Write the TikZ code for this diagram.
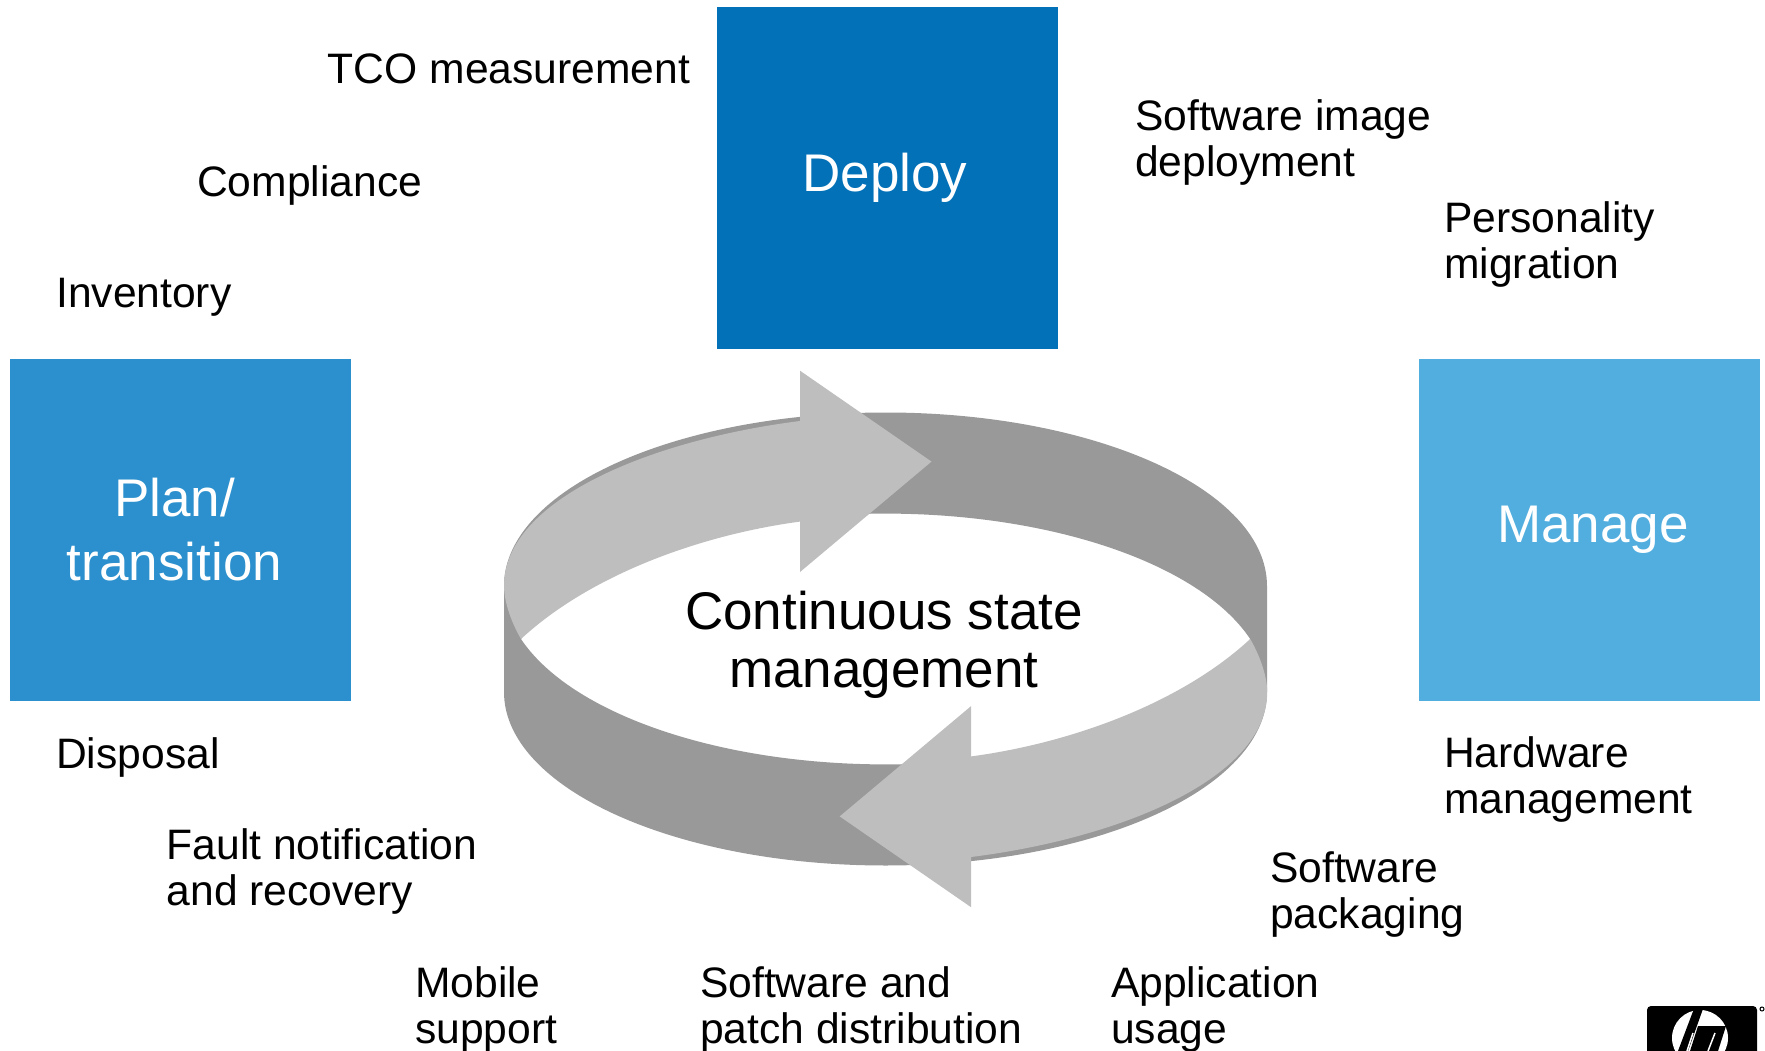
\documentclass[tikz,border=0pt]{standalone}
\usepackage{fontspec}
\setmainfont{Liberation Sans}
\usetikzlibrary{positioning}
\definecolor{deployblue}{RGB}{3,113,184}
\definecolor{planblue}{RGB}{43,144,205}
\definecolor{manageblue}{RGB}{82,174,223}
\definecolor{banddark}{RGB}{153,153,153}
\definecolor{bandlight}{RGB}{190,190,190}

\begin{document}
\begin{tikzpicture}[x=1pt, y=-1pt,
    stagebox/.style={rectangle, minimum width=341pt, minimum height=342pt, inner sep=0pt},
    stagetext/.style={text=white, align=center, inner sep=0pt, font=\fontsize{53}{64}\selectfont},
    task/.style={anchor=north west, align=left, inner sep=0pt, font=\fontsize{42.6}{46}\selectfont}]
    \useasboundingbox (0,0) rectangle (1765,1051);

    % ring
    \fill[banddark, even odd rule] (504,586) .. controls (504,490) and (675,412.5) .. (885.6,412.5)
        .. controls (1096,412.5) and (1267,490) .. (1267,586) -- (1267,692)
        .. controls (1267,788) and (1096,865.5) .. (885.6,865.5)
        .. controls (675,865.5) and (504,788) .. (504,692) -- cycle
        (521,639) .. controls (570.8,564.4) and (718.3,513.6) .. (885.6,513.6)
        .. controls (1053,513.6) and (1200.4,564.4) .. (1250.2,639)
        .. controls (1200.4,713.6) and (1053,764.4) .. (885.6,764.4)
        .. controls (718.3,764.4) and (570.8,713.6) .. (521,639) -- cycle;
    \foreach \turn in {0,180}
        \fill[bandlight, rotate around={\turn:(885.6,639)}] (504,586)
            .. controls (504,500) and (650,440) .. (800,421) -- (800,370.7) -- (931.5,461.6)
            -- (800,572) -- (800,521.6) .. controls (700,535) and (590,575) .. (521,639)
            .. controls (510,620) and (504,600) .. (504,586) -- cycle;

    \node [stagebox, fill=deployblue] (deploy) at (887.5,178) {};
    \node [stagebox, fill=planblue] (plan) at (180.5,530) {};
    \node [stagebox, fill=manageblue] (manage) at (1589.5,530) {};
    \node [stagetext] (deploytext) at ([xshift=-2.5pt]deploy.center) {Deploy};
    \node [stagetext] (plantext) at ([xshift=-6pt]plan.center) {Plan/\\transition};
    \node [stagetext] (managetext) at ([xshift=3.5pt]manage.center) {Manage};

    \node [align=center, inner sep=0pt, font=\fontsize{53}{58}\selectfont] (state) at (884,645) {Continuous state\\management};

    \node [task] (tco) at (327.6,54) {TCO measurement};
    \node [task] (compliance) at (197,165.5) {Compliance};
    \node [task] (inventory) at (56,278) {Inventory};
    \node [task] (image) at (1135,99) {Software image\\deployment};
    \node [task] (personality) at (1444,201.5) {Personality\\migration};
    \node [task] (disposal) at (56,737) {Disposal};
    \node [task] (fault) at (166.6,828.5) {Fault notification\\and recovery};
    \node [task] (mobile) at (415,966) {Mobile\\support};
    \node [task] (patch) at (700,966) {Software and\\patch distribution};
    \node [task] (usage) at (1111,966) {Application\\usage};
    \node [task] (packaging) at (1270,851) {Software\\packaging};
    \node [task] (hardware) at (1444,736) {Hardware\\management};

    % logo
    \fill[black, rounded corners=4pt] (1647,1006) rectangle (1757,1070);
    \fill[white] (1700,1038) circle (28);
    \fill[black] (1695,1006) -- (1704,1006) -- (1688,1051) -- (1678,1051) -- cycle;
    \fill[black] (1698,1026) -- (1726,1026) -- (1718,1051) -- (1690,1051) -- cycle;
    \draw[white, line width=1.5pt] (1693,1033) -- (1687,1051) (1715,1033) -- (1708,1051);
    \draw[black, line width=1pt] (1762,1009) circle (2);
\end{tikzpicture}
\end{document}
